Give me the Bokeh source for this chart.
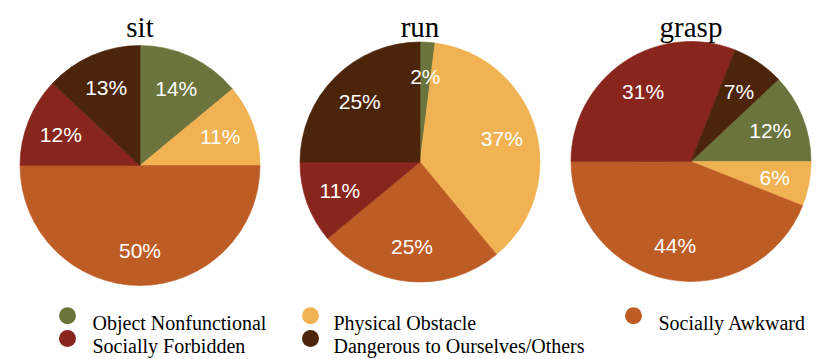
import math
from bokeh.plotting import figure
from bokeh.models import Range1d, ColumnDataSource
from bokeh.core.properties import value
from bokeh.embed import file_html
from bokeh.resources import INLINE

# ---- data ----
categories = ["Object Nonfunctional", "Physical Obstacle", "Socially Awkward",
              "Socially Forbidden", "Dangerous to Ourselves/Others"]
colors = ["#6B743C", "#F0B252", "#BE5C25", "#88251C", "#4B240A"]
titles = ["sit", "run", "grasp"]
sit_values = [14, 11, 50, 12, 13]
run_values = [2, 37, 25, 11, 25]
grasp_values = [12, 6, 44, 31, 7]

# ---- layout (picture pixels) ----
W, H = 830, 359
def fy(py):
    return H - py

centers = [(139.5, fy(165)), (419.5, fy(161.5)), (690.5, fy(161))]
start_offsets_deg = [0.0, 0.0, 46.8]   # clockwise rotation from 12 o'clock
R = 120
label_r = 0.71 * R

p = figure(width=W, height=H, output_backend="svg", toolbar_location=None,
           x_range=Range1d(0, W), y_range=Range1d(0, H), min_border=0)
p.axis.visible = False
p.grid.visible = False
p.outline_line_color = None
p.background_fill_color = "white"
p.border_fill_color = "white"

all_values = [sit_values, run_values, grasp_values]
for (cx, cy), vals, off, title in zip(centers, all_values, start_offsets_deg, titles):
    total = float(sum(vals))
    starts, ends, lx, ly, labels = [], [], [], [], []
    acc = off
    for v in vals:
        a0 = acc
        a1 = acc + 360.0 * v / total
        mid = math.radians((a0 + a1) / 2)
        starts.append(math.pi / 2 - math.radians(a0))
        ends.append(math.pi / 2 - math.radians(a1))
        lx.append(cx + label_r * math.sin(mid))
        ly.append(cy + label_r * math.cos(mid))
        labels.append(f"{v}%")
        acc = a1
    src = ColumnDataSource(dict(x=[cx] * len(vals), y=[cy] * len(vals),
                                s=starts, e=ends, c=colors))
    p.wedge(x="x", y="y", radius=R, start_angle="s", end_angle="e",
            direction="clock", fill_color="c", line_color="c", line_width=0.6,
            source=src)
    p.text(x=lx, y=ly, text=labels, text_color="white",
           text_font=value("Liberation Sans"), text_font_size="21px",
           text_align="center", text_baseline="middle")
    p.text(x=[cx], y=[fy(26.5)], text=[title], text_color="black",
           text_font=value("Liberation Serif"), text_font_size="29px",
           text_align="center", text_baseline="alphabetic")

# ---- legend ----
marker_x = [67, 310, 633, 67, 310]
marker_y = [315.3, 315.3, 315.3, 338, 338]
text_x = [92, 333, 658, 92, 333]
text_base = [322.7, 322.7, 322.7, 345.7, 345.7]
p.scatter(x=marker_x, y=[fy(m) for m in marker_y], size=17,
          marker="circle", fill_color=colors, line_color=None)
p.text(x=text_x, y=[fy(t) for t in text_base], text=categories,
       text_color="black", text_font=value("Liberation Serif"),
       text_font_size="20px", text_align="left", text_baseline="alphabetic")

open("out.html", "w").write(file_html(p, INLINE))
